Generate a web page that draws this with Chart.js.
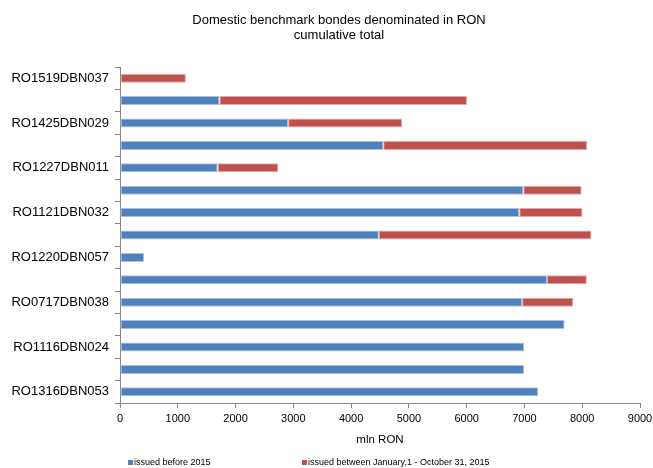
<!DOCTYPE html>
<html>
<head>
<meta charset="utf-8">
<script src="https://cdn.jsdelivr.net/npm/chart.js@4"></script>
<style>
  html, body { margin: 0; padding: 0; background: #fff; }
  #wrap { width: 653px; height: 468px; }
</style>
</head>
<body>
<div id="wrap"><canvas id="BondChart"></canvas></div>
<script>
// categories top to bottom; only every other bond is named on the axis
const bonds = ['RO1519DBN037', '', 'RO1425DBN029', '', 'RO1227DBN011', '', 'RO1121DBN032', '',
  'RO1220DBN057', '', 'RO0717DBN038', '', 'RO1116DBN024', '', 'RO1316DBN053'];
const issuedBefore2015 = [0, 1720, 2910, 4555, 1690, 6980, 6910, 4480, 415, 7390, 6960, 7695, 6995, 6995, 7235];
const issuedIn2015 = [1140, 4285, 1975, 3530, 1050, 1010, 1095, 3680, 0, 690, 885, 0, 0, 0, 0];
const xTicks = [0, 1000, 2000, 3000, 4000, 5000, 6000, 7000, 8000, 9000];
const titleLines = ['Domestic benchmark bondes denominated in RON', 'cumulative total'];

Chart.defaults.font.family = "'Liberation Sans', Arial, sans-serif";
Chart.defaults.color = '#000';

// title and legend placed like the original
const titleAndLegend = {
  id: 'titleAndLegend',
  afterDraw(chart) {
    const c = chart.ctx;
    c.save();
    c.fillStyle = '#000';
    c.textAlign = 'center';
    c.textBaseline = 'middle';
    c.font = "13px 'Liberation Sans', Arial, sans-serif";
    titleLines.forEach((t, i) => c.fillText(t, 339, 20 + i * 15));

    const xs = [128, 302];
    c.textAlign = 'left';
    c.font = "9px 'Liberation Sans', Arial, sans-serif";
    chart.data.datasets.forEach((ds, i) => {
      c.fillStyle = ds.backgroundColor;
      c.fillRect(xs[i], 460, 5, 5);
      c.fillStyle = '#000';
      c.fillText(ds.label, xs[i] + 6, 463);
    });
    c.restore();
  }
};

function drawBondChart() {
  const ctx = document.getElementById('BondChart');

  new Chart(ctx, {
    type: 'bar',
    data: {
      labels: bonds,
      datasets: [{
        label: 'issued before 2015',
        data: issuedBefore2015,
        backgroundColor: '#4F81BD',
        borderColor: '#A9C1DF',
        borderWidth: 1,
        borderSkipped: false
      }, {
        label: 'issued between January,1 - October 31, 2015',
        data: issuedIn2015,
        backgroundColor: '#C0504D',
        borderColor: '#E2A9A7',
        borderWidth: 1,
        borderSkipped: false
      }]
    },
    plugins: [titleAndLegend],
    options: {
      indexAxis: 'y',
      responsive: true,
      maintainAspectRatio: false,
      animation: false,
      layout: { padding: { left: 0, right: 13, top: 67, bottom: 18 } },
      datasets: { bar: { categoryPercentage: 1, barPercentage: 0.4 } },
      plugins: {
        title: { display: false },
        legend: { display: false },
        tooltip: { enabled: false }
      },
      scales: {
        x: {
          stacked: true,
          min: 0,
          max: 9000,
          afterBuildTicks: function (axis) {
            axis.ticks = xTicks.map(v => ({ value: v }));
          },
          afterFit: function (axis) { axis.paddingLeft = 0; axis.paddingRight = 0; },
          grid: { display: true, drawOnChartArea: false, tickLength: 5, color: '#868686' },
          border: { color: '#868686' },
          ticks: {
            font: { size: 11 }, color: '#000', padding: 4, maxRotation: 0,
            callback: function (v) { return String(v); }
          },
          title: { display: true, text: 'mln RON', font: { size: 11.5 }, color: '#000', padding: { top: 4, bottom: 3 } }
        },
        y: {
          stacked: true,
          afterFit: function (axis) { axis.width = 120; },
          grid: { display: true, drawOnChartArea: false, tickLength: 5, color: '#868686', offset: true },
          border: { color: '#868686' },
          ticks: { autoSkip: false, font: { size: 13 }, color: '#000', padding: 6 }
        }
      }
    }
  });
}

drawBondChart();
</script>
</body>
</html>
